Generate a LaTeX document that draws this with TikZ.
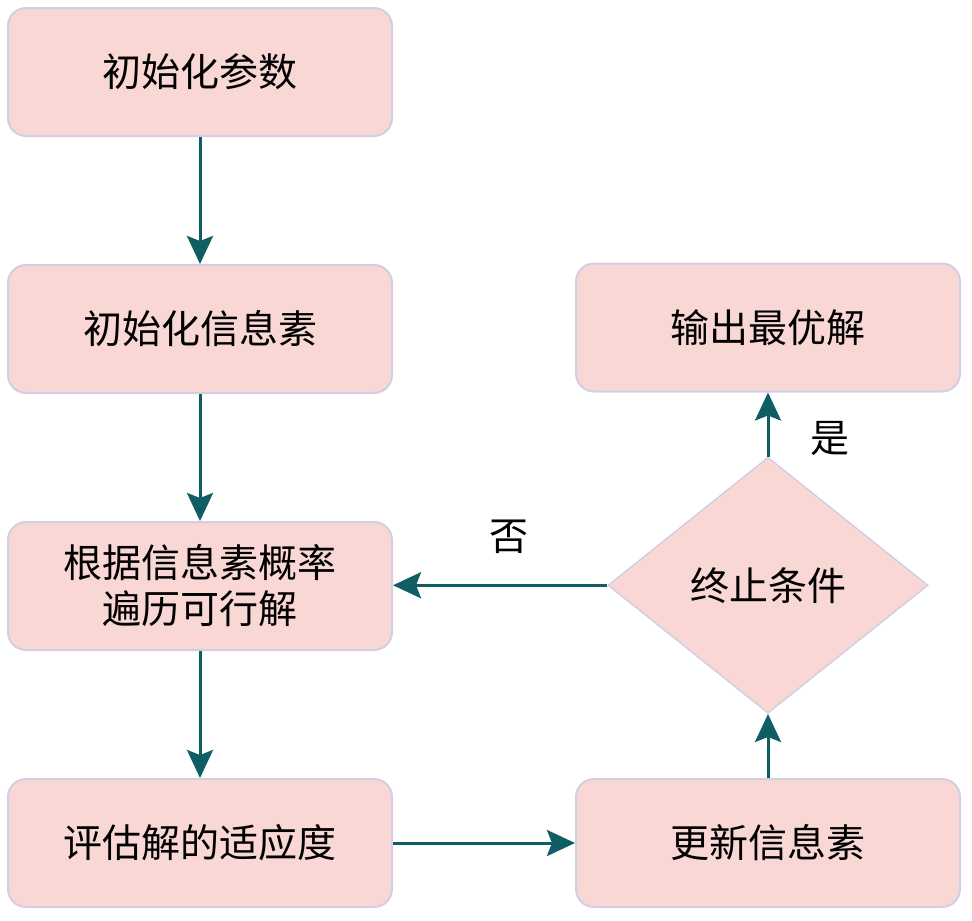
\documentclass[tikz,border=0pt]{standalone}
\usepackage{fontspec}
\setmainfont{Noto Sans CJK SC}
\usetikzlibrary{positioning}
\usetikzlibrary{shapes.geometric}
\usetikzlibrary{arrows.meta}
\definecolor{boxfill}{HTML}{F8D7D4}
\definecolor{boxline}{HTML}{D2CFE3}
\definecolor{flowline}{HTML}{0F5E64}
\tikzset{stepbox/.style={draw=boxline, fill=boxfill, line width=2pt, rounded corners=18pt,
    minimum width=384pt, minimum height=128pt, align=center, font=\fontsize{39}{46}\selectfont},
  decision/.style={diamond, draw=boxline, fill=boxfill, line width=1.5pt, inner sep=0pt,
    minimum width=320pt, minimum height=256pt, shape aspect=1.25, font=\fontsize{39}{46}\selectfont},
  flow/.style={draw=flowline, line width=3pt, -{Stealth[length=28pt, width=26pt, inset=5pt]}},
  flowlabel/.style={font=\fontsize{39}{46}\selectfont, inner sep=0pt}}

\begin{document}
\begin{tikzpicture}[x=1pt, y=-1pt, node distance=127pt]
\useasboundingbox (0,0) rectangle (972,921);
\node[stepbox] (init) at (200,72) {初始化参数};
\node[stepbox, below=of init] (pher) {初始化信息素};
\node[stepbox, below=of pher] (walk) {根据信息素概率\\遍历可行解};
\node[stepbox, below=of walk] (eval) {评估解的适应度};
\node[stepbox, right=182pt of eval] (update) {更新信息素};
\node[decision, above=64pt of update] (stop) {终止条件};
\node[stepbox, above=64pt of stop] (best) {输出最优解};

\draw[flow] (init) -- (pher);
\draw[flow] (pher) -- (walk);
\draw[flow] (walk) -- (eval);
\draw[flow] (eval) -- (update);
\draw[flow] (update) -- (stop);
\draw[flow] (stop.north) -- node[flowlabel, pos=0.28, xshift=62pt] {是} (best);
\draw[flow] (stop.west) -- node[flowlabel, pos=0.46, yshift=48pt] {否} (stop.west -| walk.east);
\end{tikzpicture}
\end{document}
